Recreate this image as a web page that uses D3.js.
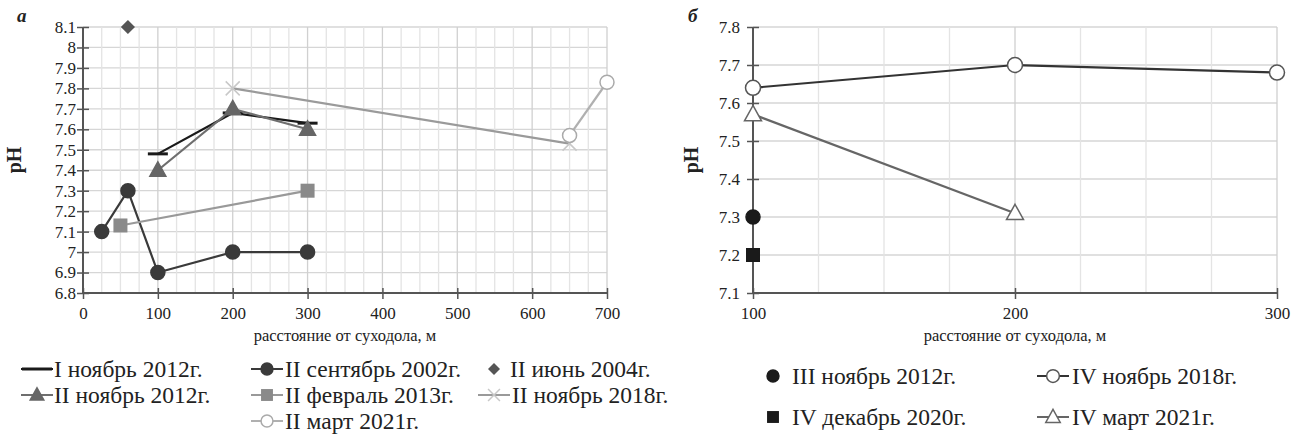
<!DOCTYPE html>
<html>
<head>
<meta charset="utf-8">
<script src="https://cdn.jsdelivr.net/npm/d3@7"></script>
<style>
  body { margin: 0; background: #fff; }
  svg text { font-family: "Liberation Serif", "Times New Roman", serif; fill: #222; }
</style>
</head>
<body>
<svg id="chart" width="1293" height="436"></svg>
<script>
// ---- panel a: tick values
const aXTicks = [0, 100, 200, 300, 400, 500, 600, 700];
const aYTicks = [6.8, 6.9, 7, 7.1, 7.2, 7.3, 7.4, 7.5, 7.6, 7.7, 7.8, 7.9, 8, 8.1];

// ---- panel a: series (distance, pH)
const aNov2012I_x = [100, 200, 300];
const aNov2012I_y = [7.48, 7.68, 7.63];
const aSep2002_x = [25, 60, 100, 200, 300];
const aSep2002_y = [7.1, 7.3, 6.9, 7.0, 7.0];
const aJun2004_x = [60];
const aJun2004_y = [8.1];
const aNov2012II_x = [100, 200, 300];
const aNov2012II_y = [7.4, 7.7, 7.6];
const aFeb2013_x = [50, 300];
const aFeb2013_y = [7.13, 7.3];
const aNov2018_x = [200, 650];
const aNov2018_y = [7.8, 7.53];
const aMar2021_x = [650, 700];
const aMar2021_y = [7.57, 7.83];

// ---- panel б: tick values
const bXTicks = [100, 200, 300];
const bYTicks = [7.1, 7.2, 7.3, 7.4, 7.5, 7.6, 7.7, 7.8];

// ---- panel б: series
const bNov2012III_x = [100];
const bNov2012III_y = [7.3];
const bDec2020_x = [100];
const bDec2020_y = [7.2];
const bNov2018_x = [100, 200, 300];
const bNov2018_y = [7.64, 7.7, 7.68];
const bMar2021_x = [100, 200];
const bMar2021_y = [7.57, 7.31];

const SERIF = '"Liberation Serif", "Times New Roman", serif';
const svg = d3.select('#chart');
const fmt = d3.format('~g');

function zip(xs, ys) { return xs.map((x, i) => ({ x, y: ys[i] })); }

// marker shapes
function marker(g, type, cx, cy, s) {
  if (type === 'circle' || type === 'ocircle') {
    g.append('circle').attr('cx', cx).attr('cy', cy).attr('r', s.r)
      .attr('fill', type === 'ocircle' ? '#fff' : s.color)
      .attr('stroke', s.mstroke || s.color).attr('stroke-width', 1.5);
  } else if (type === 'square') {
    g.append('rect').attr('x', cx - s.r).attr('y', cy - s.r)
      .attr('width', 2 * s.r).attr('height', 2 * s.r).attr('fill', s.color);
  } else if (type === 'diamond') {
    g.append('rect').attr('x', cx - s.r).attr('y', cy - s.r)
      .attr('width', 2 * s.r).attr('height', 2 * s.r).attr('fill', s.color)
      .attr('transform', `rotate(45,${cx},${cy})`);
  } else if (type === 'triangle' || type === 'otriangle') {
    const r = s.r;
    g.append('path')
      .attr('d', `M${cx},${cy - r * 1.05}L${cx + r},${cy + r * 0.75}L${cx - r},${cy + r * 0.75}Z`)
      .attr('fill', type === 'otriangle' ? '#fff' : s.color)
      .attr('stroke', s.mstroke || s.color).attr('stroke-width', 1.5);
  } else if (type === 'cross') {
    const r = s.r;
    g.append('path')
      .attr('d', `M${cx - r},${cy - r}L${cx + r},${cy + r}M${cx - r},${cy + r}L${cx + r},${cy - r}`)
      .attr('stroke', s.mstroke || s.color).attr('stroke-width', 1.5).attr('fill', 'none');
  } else if (type === 'dash') {
    g.append('line').attr('x1', cx - s.r).attr('x2', cx + s.r).attr('y1', cy).attr('y2', cy)
      .attr('stroke', s.color).attr('stroke-width', 3);
  }
}

function panel(cfg) {
  const x = d3.scaleLinear().domain(cfg.xDomain).range([cfg.left, cfg.right]);
  const y = d3.scaleLinear().domain(cfg.yDomain).range([293, 27]);
  const g = svg.append('g');

  // grid
  const grid = g.append('g');
  grid.selectAll('line.h').data(cfg.yTicks.slice(1)).join('line')
    .attr('x1', cfg.left).attr('x2', cfg.right)
    .attr('y1', d => y(d)).attr('y2', d => y(d))
    .attr('stroke', '#d6d6d6').attr('stroke-width', 1.3);
  const minor = d3.range(cfg.xDomain[0] + cfg.xMinor, cfg.xDomain[1] + 0.1, cfg.xMinor);
  grid.selectAll('line.v').data(minor).join('line')
    .attr('x1', d => x(d)).attr('x2', d => x(d))
    .attr('y1', y(cfg.yDomain[0])).attr('y2', y(cfg.yDomain[1]))
    .attr('stroke', d => cfg.xTicks.includes(d) ? '#d0d0d0' : '#e4e4e4')
    .attr('stroke-width', 1.3);

  // axes
  const xa = g.append('g').attr('transform', `translate(0,${y(cfg.yDomain[0])})`)
    .call(d3.axisBottom(x).tickValues(cfg.xTicks).tickSize(6).tickPadding(8).tickFormat(fmt));
  xa.selectAll('.tick line').attr('y1', -5).attr('y2', 6);
  const ya = g.append('g').attr('transform', `translate(${cfg.left},0)`)
    .call(d3.axisLeft(y).tickValues(cfg.yTicks).tickSize(6).tickPadding(cfg.yPad).tickFormat(fmt));
  ya.selectAll('.tick line').attr('x1', -6).attr('x2', 6);
  [xa, ya].forEach(a => {
    a.attr('font-family', null).attr('font-size', 17);
    a.select('.domain').attr('stroke', '#555').attr('stroke-width', 2);
    a.selectAll('.tick line').attr('stroke', '#555').attr('stroke-width', 1.5);
    a.selectAll('.tick text').attr('font-size', 17).attr('fill', '#333');
  });
  xa.selectAll('.domain').attr('d', `M${cfg.left},0H${cfg.right}`);
  ya.selectAll('.domain').attr('d', `M0,${y(cfg.yDomain[0])}V${y(cfg.yDomain[1])}`);

  // titles
  g.append('text').attr('x', (cfg.left + cfg.right) / 2).attr('y', 341)
    .attr('text-anchor', 'middle').attr('font-size', 16.5)
    .text('расстояние от суходола, м');
  g.append('text').attr('transform', `translate(${cfg.pHx},160) rotate(-90)`)
    .attr('text-anchor', 'middle').attr('font-size', 20)
    .attr('font-weight', 'bold').text('pH');
  g.append('text').attr('x', cfg.labelX).attr('y', 22)
    .attr('font-size', 19).attr('font-weight', 'bold').attr('font-style', 'italic').text(cfg.label);

  // series
  const line = d3.line().x(d => x(d.x)).y(d => y(d.y));
  cfg.series.forEach(s => {
    const pts = zip(s.xs, s.ys);
    if (s.line && pts.length > 1) {
      g.append('path').datum(pts).attr('d', line)
        .attr('fill', 'none').attr('stroke', s.line).attr('stroke-width', 2.2);
    }
    const mg = g.append('g');
    pts.forEach(p => marker(mg, s.type, x(p.x), y(p.y), s));
  });

  // legend
  const lg = g.append('g');
  cfg.series.forEach(s => {
    const [lx, ly, tx] = s.legend;
    if (s.line) {
      lg.append('line').attr('x1', lx - 16).attr('x2', lx + 16).attr('y1', ly).attr('y2', ly)
        .attr('stroke', s.line).attr('stroke-width', 2);
    }
    const ls = Object.assign({}, s, { r: s.type === 'dash' ? 15 : s.r * 0.85 });
    marker(lg, s.type, lx, ly, ls);
    lg.append('text').attr('x', tx).attr('y', ly + 7.5)
      .attr('font-size', 23.5).attr('fill', '#222').text(s.name);
  });
}

panel({
  xDomain: [0, 700], yDomain: [6.8, 8.1], left: 83, right: 607,
  xTicks: aXTicks, yTicks: aYTicks, xMinor: 25, yPad: 1,
  pHx: 21, labelX: 17, label: 'а',
  series: [
    { name: 'I ноябрь 2012г.', xs: aNov2012I_x, ys: aNov2012I_y, type: 'dash', color: '#1a1a1a', line: '#1a1a1a', r: 10, legend: [37, 369, 54] },
    { name: 'II сентябрь 2002г.', xs: aSep2002_x, ys: aSep2002_y, type: 'circle', color: '#3a3a3a', line: '#3a3a3a', r: 7, legend: [267, 369, 285] },
    { name: 'II июнь 2004г.', xs: aJun2004_x, ys: aJun2004_y, type: 'diamond', color: '#555', line: null, r: 5, legend: [494, 369, 510] },
    { name: 'II ноябрь 2012г.', xs: aNov2012II_x, ys: aNov2012II_y, type: 'triangle', color: '#666', line: '#6e6e6e', r: 8, legend: [37, 395, 54] },
    { name: 'II февраль 2013г.', xs: aFeb2013_x, ys: aFeb2013_y, type: 'square', color: '#8a8a8a', line: '#999', r: 7, legend: [267, 395, 285] },
    { name: 'II ноябрь 2018г.', xs: aNov2018_x, ys: aNov2018_y, type: 'cross', color: '#c8c8c8', mstroke: '#c8c8c8', line: '#9a9a9a', r: 7, legend: [494, 395, 512] },
    { name: 'II март 2021г.', xs: aMar2021_x, ys: aMar2021_y, type: 'ocircle', color: '#b5b5b5', mstroke: '#aaa', line: '#b0b0b0', r: 7, legend: [267, 421, 285] }
  ]
});

panel({
  xDomain: [100, 300], yDomain: [7.1, 7.8], left: 753, right: 1277,
  xTicks: bXTicks, yTicks: bYTicks, xMinor: 25, yPad: 7,
  pHx: 698, labelX: 688, label: 'б',
  series: [
    { name: 'III  ноябрь 2012г.', xs: bNov2012III_x, ys: bNov2012III_y, type: 'circle', color: '#1a1a1a', line: null, r: 7, legend: [773, 376, 792] },
    { name: 'IV ноябрь 2018г.', xs: bNov2018_x, ys: bNov2018_y, type: 'ocircle', color: '#333', mstroke: '#555', line: '#333', r: 7.5, legend: [1053, 376, 1072] },
    { name: 'IV декабрь 2020г.', xs: bDec2020_x, ys: bDec2020_y, type: 'square', color: '#1a1a1a', line: null, r: 7, legend: [773, 417, 792] },
    { name: 'IV март 2021г.', xs: bMar2021_x, ys: bMar2021_y, type: 'otriangle', color: '#666', mstroke: '#666', line: '#666', r: 8.5, legend: [1053, 417, 1072] }
  ]
});
</script>
</body>
</html>
